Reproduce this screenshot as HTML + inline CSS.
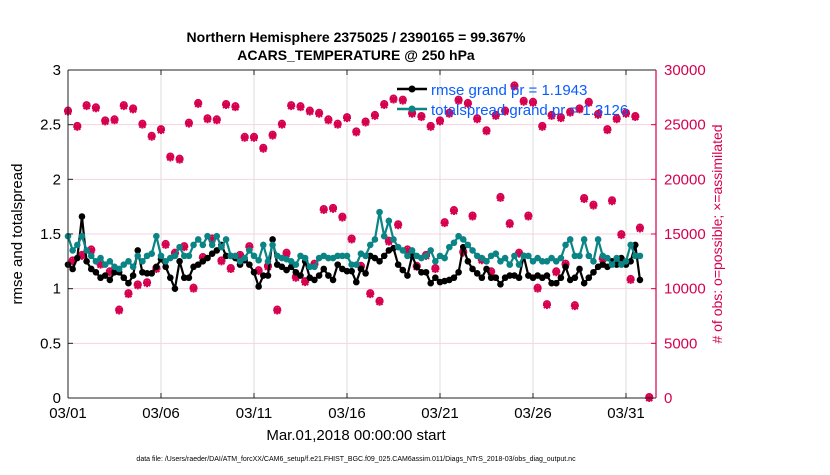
<!DOCTYPE html>
<html><head><meta charset="utf-8"><style>
body{margin:0;background:#fff;font-family:"Liberation Sans",sans-serif}
svg text{font-family:"Liberation Sans",sans-serif}
</style></head><body>
<svg id="c" width="830" height="470" xmlns="http://www.w3.org/2000/svg">
<rect width="830" height="470" fill="#fff"/>
<text x="356" y="42" text-anchor="middle" font-size="14" font-weight="bold">Northern Hemisphere 2375025 / 2390165 = 99.367%</text>
<text x="356" y="60" text-anchor="middle" font-size="14" font-weight="bold">ACARS_TEMPERATURE @ 250 hPa</text>
<g id="grid"></g><g id="marks"></g><g id="axes"></g>
<text x="0" y="0" transform="translate(22,234) rotate(-90)" text-anchor="middle" font-size="15">rmse and totalspread</text>
<text x="0" y="0" transform="translate(722,234) rotate(-90)" text-anchor="middle" font-size="14" fill="#d6004f"># of obs: o=possible; ×=assimilated</text>
<text x="356" y="440" text-anchor="middle" font-size="15">Mar.01,2018 00:00:00 start</text>
<text x="356" y="461" text-anchor="middle" font-size="7">data file: /Users/raeder/DAI/ATM_forcXX/CAM6_setup/f.e21.FHIST_BGC.f09_025.CAM6assim.011/Diags_NTrS_2018-03/obs_diag_output.nc</text>
<g>
<line x1="397" y1="89" x2="427" y2="89" stroke="#000" stroke-width="2.5"/><circle cx="412" cy="89" r="3.5" fill="#000"/>
<text x="431" y="95" font-size="15" fill="#0a5cff">rmse grand pr = 1.1943</text>
<line x1="397" y1="109" x2="427" y2="109" stroke="#0a8484" stroke-width="2.5"/><circle cx="412" cy="109" r="3.5" fill="#0a8484"/>
<text x="431" y="115" font-size="15" fill="#0a5cff">totalspread grand pr = 1.3126</text>
</g>
</svg>
<script>
const xTickLabels=["03/01","03/06","03/11","03/16","03/21","03/26","03/31"];
const yLeftTicks=[0,0.5,1,1.5,2,2.5,3];
const yRightTicks=[0,5000,10000,15000,20000,25000,30000];
const rmse=[1.22,1.18,1.28,1.66,1.25,1.18,1.15,1.10,1.12,1.08,1.15,1.15,1.10,1.05,1.12,1.35,1.15,1.14,1.14,1.20,1.27,1.20,1.10,1.00,1.25,1.10,1.10,1.20,1.22,1.25,1.28,1.32,1.35,1.40,1.30,1.30,1.28,1.22,1.26,1.22,1.15,1.02,1.12,1.12,1.45,1.22,1.20,1.17,1.20,1.15,1.12,1.25,1.10,1.08,1.12,1.18,1.12,1.08,1.22,1.18,1.16,1.16,1.06,1.18,1.14,1.30,1.28,1.25,1.30,1.35,1.37,1.22,1.17,1.12,1.30,1.20,1.15,1.15,1.05,1.10,1.06,1.07,1.08,1.10,1.15,1.38,1.25,1.18,1.14,1.10,1.18,1.10,1.10,1.04,1.10,1.12,1.12,1.10,1.30,1.12,1.10,1.12,1.10,1.12,1.05,1.05,1.10,1.20,1.08,1.10,1.18,1.05,1.10,1.15,1.20,1.22,1.20,1.25,1.22,1.28,1.22,1.25,1.40,1.08];
const spread=[1.48,1.35,1.40,1.48,1.35,1.30,1.25,1.28,1.22,1.25,1.20,1.18,1.22,1.25,1.20,1.30,1.25,1.30,1.32,1.48,1.30,1.25,1.28,1.30,1.38,1.30,1.30,1.40,1.45,1.40,1.48,1.40,1.48,1.38,1.45,1.30,1.30,1.25,1.28,1.35,1.30,1.26,1.40,1.25,1.40,1.30,1.28,1.27,1.25,1.22,1.30,1.28,1.20,1.20,1.28,1.30,1.28,1.28,1.30,1.30,1.30,1.22,1.22,1.32,1.30,1.40,1.45,1.70,1.48,1.62,1.45,1.38,1.35,1.30,1.35,1.30,1.28,1.30,1.35,1.25,1.30,1.28,1.38,1.42,1.48,1.45,1.40,1.35,1.30,1.28,1.25,1.30,1.32,1.25,1.28,1.22,1.30,1.22,1.30,1.30,1.25,1.28,1.25,1.25,1.28,1.25,1.28,1.40,1.45,1.30,1.30,1.45,1.30,1.25,1.45,1.30,1.28,1.22,1.28,1.22,1.25,1.40,1.30,1.30];
const obsHigh=[26200,24800,26700,26500,25300,25400,26700,26400,25000,23900,24500,22000,21800,25100,26900,25500,25400,26800,26600,23800,23800,22800,24000,25000,26700,26600,26200,26000,25400,25000,25600,24300,25200,25800,26800,27300,27200,26000,25700,24800,25300,26000,27200,26900,25500,24400,25800,26200,28500,27100,27000,24800,25800,25600,26100,26400,27000,25900,24500,25500,26000,25700];
const obsLow=[12500,13000,13500,12200,11500,8000,9500,10300,10500,11800,14000,13200,13800,10000,12800,14500,12500,11800,13000,13800,11600,12000,8000,13200,11000,10600,12200,17200,17300,16500,14500,12000,9500,8800,14300,15800,13500,12000,13000,11800,16000,17100,13300,16600,12600,11500,18300,15900,13200,16600,10000,8500,11500,12200,8400,18200,17600,12700,18000,14900,10800,15500,0];
const L=68,R=656,T=70,B=398,DAY=18.6;
const xs=d=>L+d*DAY, yl=v=>B-(v/3)*(B-T), yr=v=>B-(v/30000)*(B-T);
const NS="http://www.w3.org/2000/svg";
function mk(tag,attrs,parent){const e=document.createElementNS(NS,tag);for(const k in attrs)e.setAttribute(k,attrs[k]);parent.appendChild(e);return e;}
const grid=document.getElementById('grid'),marks=document.getElementById('marks'),axes=document.getElementById('axes');
mk('rect',{x:L,y:T,width:R-L,height:B-T,fill:'#fff'},grid);
xTickLabels.forEach((t,i)=>{const x=xs(i*5);
 const g=mk('line',{x1:x,y1:T,x2:x,y2:B,stroke:'#ddd','stroke-width':1},grid);
 
 
 mk('line',{x1:x,y1:B,x2:x,y2:B-5,stroke:'#222'},axes);mk('line',{x1:x,y1:T,x2:x,y2:T+5,stroke:'#222'},axes);
 const tx=mk('text',{x:x,y:B+20,'text-anchor':'middle','font-size':15},axes);tx.textContent=t;
 
 });
yRightTicks.forEach(v=>{const y=yr(v);
 if(v>0&&v<30000){const g=mk('line',{x1:L,y1:y,x2:R,y2:y,stroke:'#f6d3e0','stroke-width':1},grid);
 
 }
 mk('line',{x1:R,y1:y,x2:R-5,y2:y,stroke:'#d6004f'},axes);
 const tx=mk('text',{x:R+8,y:y+5,'font-size':15,fill:'#d6004f'},axes);tx.textContent=v;
 
 });
yLeftTicks.forEach(v=>{const y=yl(v);
 mk('line',{x1:L,y1:y,x2:L+5,y2:y,stroke:'#222'},axes);
 const tx=mk('text',{x:L-7,y:y+5,'text-anchor':'end','font-size':15},axes);tx.textContent=v;
 
 });
mk('line',{x1:L,y1:T,x2:R,y2:T,stroke:'#222'},axes);mk('line',{x1:L,y1:B,x2:R,y2:B,stroke:'#222'},axes);
mk('line',{x1:L,y1:T,x2:L,y2:B,stroke:'#222'},axes);mk('line',{x1:R,y1:T,x2:R,y2:B,stroke:'#d6004f','stroke-width':1.2},axes);
function obsMark(d,v,name){const x=xs(d),y=yr(v);const g=mk('g',{},marks);
 
 
 mk('circle',{cx:x,cy:y-1,r:3.2,fill:'none',stroke:'#d6004f','stroke-width':1.6},g);
 mk('path',{d:`M${x-4},${y} L${x+4},${y} M${x},${y-4} L${x},${y+4} M${x-3},${y-3} L${x+3},${y+3} M${x-3},${y+3} L${x+3},${y-3}`,stroke:'#d6004f','stroke-width':2},g);}
obsHigh.forEach((v,k)=>obsMark(k*0.5,v,'obs-count-point'));
obsLow.forEach((v,k)=>obsMark(k*0.5+0.25,v,'obs-count-point'));
function series(arr,col,name){const pts=arr.map((v,i)=>[xs(i*0.25),yl(v)]);
 const p=mk('polyline',{points:pts.map(p=>p.join(',')).join(' '),fill:'none',stroke:col,'stroke-width':2.2},marks);
 
 
 pts.forEach(pt=>{const c=mk('circle',{cx:pt[0],cy:pt[1],r:3.3,fill:col},marks);
 
 });}
series(rmse,'#000','rmse');
series(spread,'#0a8484','totalspread');
</script>
</body></html>
